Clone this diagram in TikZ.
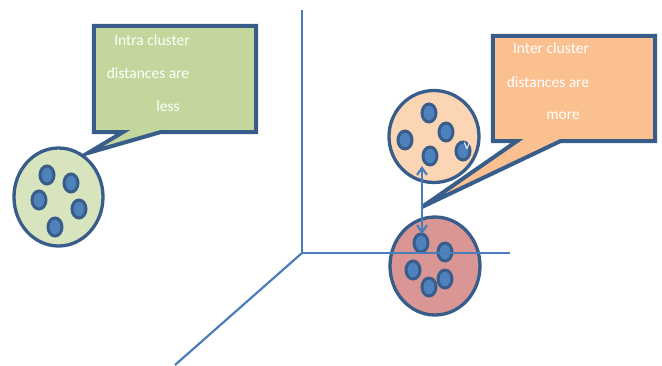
\documentclass[tikz,border=0pt]{standalone}
\usepackage{fontspec}
\setmainfont{Carlito}
\usepackage{tikz}
\usetikzlibrary{arrows.meta}

\definecolor{edgeblue}{HTML}{385D8A}
\definecolor{dotblue}{HTML}{4F81BD}
\definecolor{axisblue}{HTML}{4A7EBB}
\definecolor{greenbox}{HTML}{C3D69B}
\definecolor{greenball}{HTML}{D7E4BD}
\definecolor{orangebox}{HTML}{FAC090}
\definecolor{orangeball}{HTML}{FCD5B5}
\definecolor{redball}{HTML}{D99694}

\tikzset{
  callout/.style={draw=edgeblue, line width=4pt, line join=miter},
  cluster/.style={draw=edgeblue, line width=3.3pt},
  point/.style={draw=edgeblue, fill=dotblue, line width=3pt},
  axis/.style={draw=axisblue, line width=2.2pt},
  boxtext/.style={text=white, inner sep=0pt, font=\fontsize{15.5}{18}\selectfont}
}

\begin{document}
\begin{tikzpicture}[x=1pt,y=-1pt]
  \useasboundingbox (0,0) rectangle (662,365);

  % Define the points of the axes
  \coordinate (O) at (302,253);
  \coordinate (Y) at (302,10);
  \coordinate (X) at (510,253);
  \coordinate (Z) at (175,365);

  % Draw the axes
  \draw[axis] (O) -- (Y);
  \draw[axis] (O) -- (Z);

  % Green callout
  \coordinate (gtip) at (88,153);
  \node[minimum width=162pt, minimum height=106pt, inner sep=0pt] (gbox) at (175,79) {};
  \draw[callout, fill=greenbox] (gbox.north west) -- (gbox.north east) -- (gbox.south east)
    -- ([xshift=-96pt]gbox.south east) -- (gtip) -- ([xshift=29pt]gbox.south west)
    -- (gbox.south west) -- cycle;
  \node[boxtext] (g1) at (152,40) {Intra cluster};
  \node[boxtext] (g2) at (148,73) {distances are};
  \node[boxtext] (g3) at (168,106) {less};

  % Green cluster
  \draw[cluster, fill=greenball] (58.5,197) ellipse (44.5pt and 49pt);
  \foreach \x/\y in {47/175, 71/183, 39/200, 79/209, 55/227}
    \draw[point] (\x,\y) ellipse (7pt and 9pt);

  % Orange callout
  \coordinate (otip) at (422,207);
  \node[minimum width=162pt, minimum height=105pt, inner sep=0pt] (obox) at (574,88.5) {};
  \draw[callout, fill=orangebox] (obox.north west) -- (obox.north east) -- (obox.south east)
    -- ([xshift=-95pt]obox.south east) -- (otip) -- ([xshift=24pt]obox.south west)
    -- (obox.south west) -- cycle;
  \node[boxtext] (o1) at (551,48) {Inter cluster};
  \node[boxtext] (o2) at (548,82) {distances are};
  \node[boxtext] (o3) at (563,116) {more};

  % Upper cluster
  \draw[cluster, fill=orangeball] (434,136.5) ellipse (45pt and 46pt);
  \foreach \x/\y in {429/113, 446/132, 405/140, 430/156, 463/151}
    \draw[point] (\x,\y) ellipse (7pt and 9pt);
  \node[text=white, inner sep=0pt, font=\fontsize{14}{15}\selectfont] (v) at (467,146) {v};

  % Lower cluster
  \draw[cluster, fill=redball] (435,266) ellipse (45pt and 49pt);
  \foreach \x/\y in {421/243, 445/252, 413/270, 445/279, 429/287}
    \draw[point] (\x,\y) ellipse (7pt and 9pt);

  % Horizontal axis over the lower cluster
  \draw[axis] (O) -- (X);

  % Distance between the clusters
  \coordinate (up) at (422,166);
  \coordinate (down) at (422,234);
  \draw[axis, {Straight Barb[length=7pt,width=10pt]}-{Straight Barb[length=7pt,width=10pt]}] (up) -- (down);
\end{tikzpicture}
\end{document}
